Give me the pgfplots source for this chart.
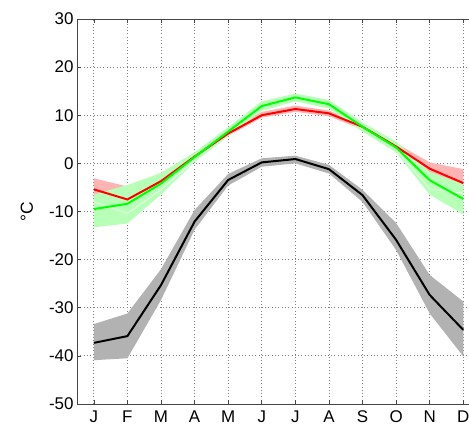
\documentclass[border=0pt]{standalone}
\usepackage{fontspec}
\setmainfont{Liberation Sans}
\usepackage{pgfplots}
\pgfplotsset{compat=1.18}
\usepackage{pgfplotstable}
\usepgfplotslibrary{fillbetween}

% monthly mean temperature (mid) with its spread (lo, hi)
\pgfplotstableread{
m lo mid hi
1 -40.9 -37.3 -33.4
2 -40.5 -35.9 -31.2
3 -28.4 -25.3 -22.0
4 -13.8 -12.1 -9.7
5 -4.6 -3.45 -2.2
6 -0.7 0.2 1.05
7 0.0 0.9 1.6
8 -2.1 -1.2 -0.3
9 -8.0 -6.6 -5.5
10 -18.0 -15.9 -12.4
11 -31.2 -27.35 -23.2
12 -40.1 -34.6 -28.7
}\blackdata

\pgfplotstableread{
m lo mid hi
1 -8.0 -5.4 -3.1
2 -10.4 -7.5 -4.8
3 -5.5 -3.7 -2.0
4 0.6 1.4 2.0
5 5.7 6.2 6.8
6 9.5 10.0 10.7
7 10.7 11.3 12.0
8 9.8 10.4 11.0
9 7.0 7.6 8.0
10 2.8 3.5 4.2
11 -5.3 -1.1 0.2
12 -6.2 -4.1 -1.2
}\reddata

\pgfplotstableread{
m lo mid hi
1 -13.3 -9.5 -6.5
2 -12.5 -8.4 -4.5
3 -6.5 -4.2 -2.0
4 0.3 1.3 2.3
5 5.6 6.6 7.5
6 10.9 11.9 12.9
7 12.9 13.7 14.5
8 11.4 12.3 13.2
9 6.6 7.6 8.5
10 2.3 3.3 4.5
11 -6.5 -3.5 -1.8
12 -10.6 -7.4 -4.3
}\greendata

\definecolor{bandred}{RGB}{255,180,180}
\definecolor{bandgreen}{RGB}{184,255,184}
\definecolor{bandgray}{RGB}{178,178,178}
\definecolor{axisgray}{RGB}{70,70,70}

\begin{document}
\begin{tikzpicture}
\begin{axis}[
  name=ax,
  scale only axis,
  width=392bp, height=385bp,
  xmin=0.5, xmax=12.17,
  ymin=-50, ymax=30,
  xtick={1,...,12},
  xticklabels={J,F,M,A,M,J,J,A,S,O,N,D},
  ytick={-50,-40,...,30},
  yticklabels={-50,-40,-30,-20,-10,0,10,20,30},
  ytick pos=left,
  tick align=inside,
  major tick length=4bp,
  grid=major,
  major grid style={dash pattern=on 0.9bp off 2.4bp, black!50, line width=0.8bp},
  axis line style={draw=none},
  tick style={axisgray, line width=0.5bp},
  ticklabel style={font=\fontsize{17}{17}\selectfont},
  xticklabel style={yshift=-3bp},
  ylabel={°C},
  ylabel style={font=\fontsize{17.5}{17.5}\selectfont,
    at={(axis description cs:-0.1276,0.5)}, anchor=center},
]
  % spread bands
  \addplot[name path=rhi, draw=none, forget plot] table[x=m, y=hi] {\reddata};
  \addplot[name path=rlo, draw=none, forget plot] table[x=m, y=lo] {\reddata};
  \addplot[bandred, draw=none] fill between[of=rhi and rlo];

  \addplot[name path=ghi, draw=none, forget plot] table[x=m, y=hi] {\greendata};
  \addplot[name path=glo, draw=none, forget plot] table[x=m, y=lo] {\greendata};
  \addplot[bandgreen, draw=none] fill between[of=ghi and glo];

  % seam of the lower red band edge seen through the green band
  \addplot[white, line width=0.6bp, opacity=0.9] coordinates {(1,-8.0) (2,-10.4) (3,-5.5) (4,0.6)};
  \addplot[white, line width=0.6bp, opacity=0.9] coordinates {(10,2.8) (11,-5.3) (12,-6.2)};

  \addplot[name path=khi, draw=none, forget plot] table[x=m, y=hi] {\blackdata};
  \addplot[name path=klo, draw=none, forget plot] table[x=m, y=lo] {\blackdata};
  \addplot[bandgray, draw=none] fill between[of=khi and klo];

  % means
  \addplot[black, line width=2bp] table[x=m, y=mid] {\blackdata};
  \addplot[red, line width=2bp] table[x=m, y=mid] {\reddata};
  \addplot[green, line width=2bp] table[x=m, y=mid] {\greendata};
\end{axis}
\draw[axisgray, line width=0.7bp] (ax.north east) -- (ax.north west) -- (ax.south west) -- (ax.south east);
\pgfresetboundingbox
\useasboundingbox ([xshift=-77bp,yshift=-26bp]ax.south west) rectangle ([yshift=19bp]ax.north east);
\end{tikzpicture}
\end{document}
